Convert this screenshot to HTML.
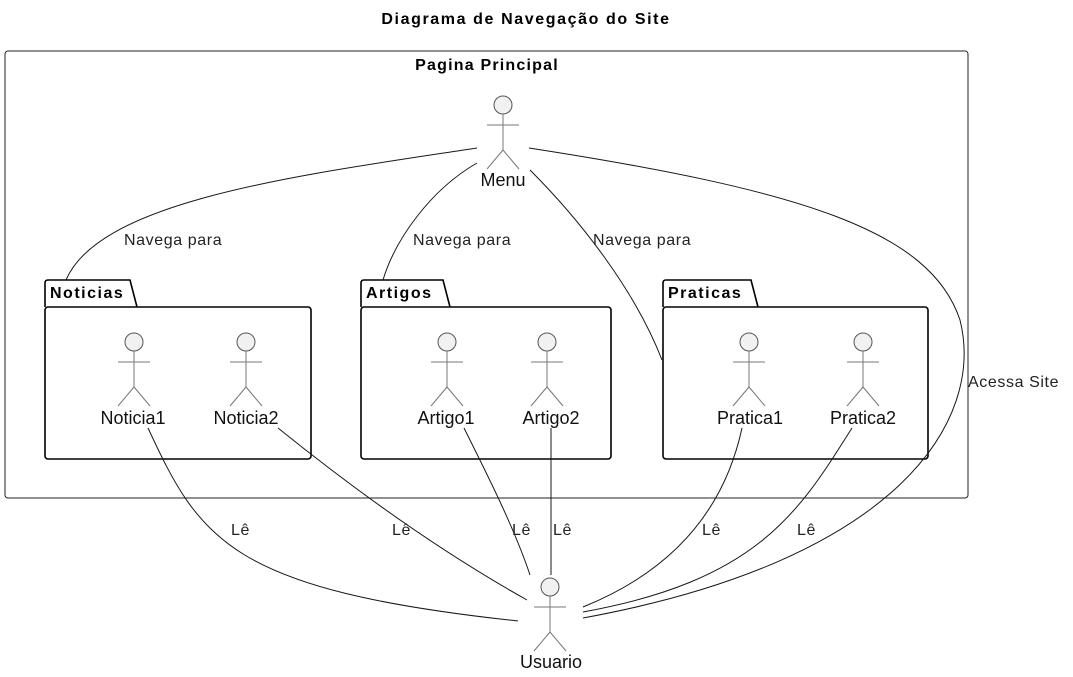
<!DOCTYPE html>
<html><head><meta charset="utf-8"><style>
html,body{margin:0;padding:0;background:#fff;}
svg{display:block;font-family:"Liberation Sans",sans-serif;}
</style></head><body>
<svg width="1073" height="677" viewBox="0 0 1073 677">
<defs>
<g id="actor">
<circle cx="0" cy="0" r="9" fill="#f1f1f1" stroke="#555" stroke-width="1"/>
<line x1="0" y1="9" x2="0" y2="45" stroke="#777"/>
<line x1="-16" y1="20" x2="16" y2="20" stroke="#777"/>
<line x1="0" y1="45" x2="-16" y2="64" stroke="#777"/>
<line x1="0" y1="45" x2="16" y2="64" stroke="#777"/>
</g>
</defs>
<text x="526" y="24" text-anchor="middle" font-size="16" font-weight="bold" letter-spacing="1.6">Diagrama de Navegação do Site</text>
<rect x="5" y="51" width="963" height="447" rx="3" fill="none" stroke="#222"/>
<text x="487" y="70" text-anchor="middle" font-size="16" font-weight="bold" letter-spacing="1.2">Pagina Principal</text>

<g fill="none" stroke="#000" stroke-width="1.6">
<path d="M45,307 V283 Q45,280 48,280 H130 L137,307"/>
<rect x="45" y="307" width="266" height="152" rx="3"/>
<path d="M361,307 V283 Q361,280 364,280 H443 L450,307"/>
<rect x="361" y="307" width="250" height="152" rx="3"/>
<path d="M663,307 V283 Q663,280 666,280 H751 L758,307"/>
<rect x="663" y="307" width="265" height="152" rx="3"/>
</g>
<g font-size="16" font-weight="bold" letter-spacing="1.5">
<text x="50" y="298">Noticias</text>
<text x="366" y="298">Artigos</text>
<text x="668" y="298">Praticas</text>
</g>

<g fill="none" stroke="#181818" stroke-width="1">
<path d="M477,148 C300,175 100,200 66,280"/>
<path d="M477,163 C430,190 395,240 383,280"/>
<path d="M530,170 C580,220 635,290 662,360"/>
<path d="M529,148 C800,190 930,230 960,320 C985,420 900,560 583,618"/>
<path d="M148,428 C200,540 230,590 518,621"/>
<path d="M278,428 C330,470 420,540 527,600"/>
<path d="M464,428 C490,480 515,530 530,575"/>
<path d="M551,428 L551,575"/>
<path d="M742,428 C720,530 650,580 583,607"/>
<path d="M852,428 C800,510 760,580 583,612"/>
</g>
<g font-size="16" fill="#222" letter-spacing="0.6">
<text x="124" y="245">Navega para</text>
<text x="413" y="245">Navega para</text>
<text x="593" y="245">Navega para</text>
<text x="968" y="387">Acessa Site</text>
<text x="231" y="535">Lê</text>
<text x="392" y="535">Lê</text>
<text x="512" y="535">Lê</text>
<text x="553" y="535">Lê</text>
<text x="702" y="535">Lê</text>
<text x="797" y="535">Lê</text>
</g>

<use href="#actor" x="503" y="105"/>
<use href="#actor" x="134" y="342"/>
<use href="#actor" x="246" y="342"/>
<use href="#actor" x="447" y="342"/>
<use href="#actor" x="547" y="342"/>
<use href="#actor" x="749" y="342"/>
<use href="#actor" x="863" y="342"/>
<use href="#actor" x="550" y="587"/>
<g font-size="18" text-anchor="middle" fill="#111">
<text x="503" y="186">Menu</text>
<text x="133" y="424">Noticia1</text>
<text x="246" y="424">Noticia2</text>
<text x="446" y="424">Artigo1</text>
<text x="551" y="424">Artigo2</text>
<text x="750" y="424">Pratica1</text>
<text x="863" y="424">Pratica2</text>
<text x="551" y="668">Usuario</text>
</g>
</svg>
</body></html>
